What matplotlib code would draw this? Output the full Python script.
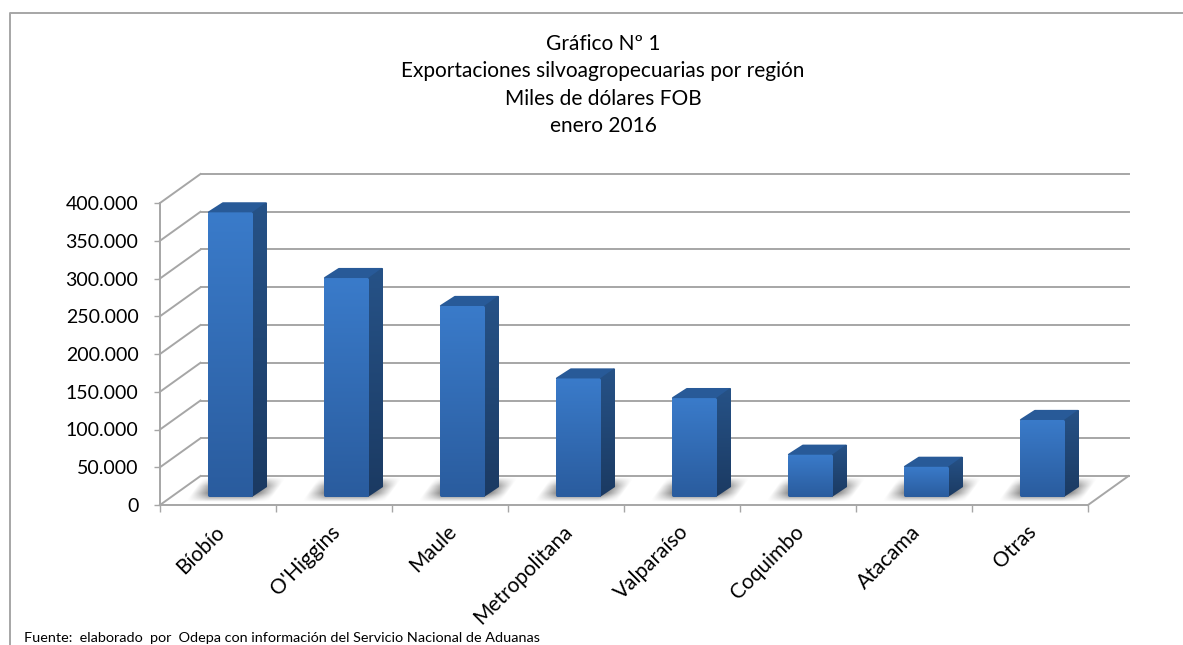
import numpy as np
import matplotlib
matplotlib.use('Agg')
import matplotlib.pyplot as plt
from matplotlib.patches import Polygon, FancyBboxPatch
from matplotlib.transforms import Affine2D
from matplotlib.colors import LinearSegmentedColormap

plt.rcParams['font.family'] = ['Lato', 'DejaVu Sans']

regiones = ['Bíobío', "O'Higgins", 'Maule', 'Metropolitana', 'Valparaíso', 'Coquimbo', 'Atacama', 'Otras']
valores = [377000, 290000, 253000, 157000, 131000, 56000, 40000, 102000]
y_ticks = [0, 50000, 100000, 150000, 200000, 250000, 300000, 350000, 400000]
y_labels = ['0', '50.000', '100.000', '150.000', '200.000', '250.000', '300.000', '350.000', '400.000']
titulo = ['Gráfico Nº 1', 'Exportaciones silvoagropecuarias por región', 'Miles de dólares FOB', 'enero 2016']
fuente = 'Fuente:  elaborado  por  Odepa con información del Servicio Nacional de Aduanas'

W, H = 1183, 645
GRIS = '#a6a6a6'
fig = plt.figure(figsize=(W / 100, H / 100), dpi=100)
ax = fig.add_axes([160 / W, 1 - 505 / H, 928 / W, 302 / H])
ax.set_xlim(0, 8)
ax.set_ylim(0, 400000)
ax.patch.set_visible(False)

# marco de la pagina
fig.add_artist(plt.Line2D([9.5 / W, 9.5 / W, 1], [0, 1 - 12.5 / H, 1 - 12.5 / H], color=GRIS, lw=1.4))

px_x = 1 / 116  # un pixel en unidades de categoria
px_y = 400000 / 302
fondo_x, fondo_y = 40.5 * px_x, 29 * px_y

# paredes: lineas de fondo y diagonales
for t in y_ticks:
    ax.plot([fondo_x, 8 + fondo_x], [t + fondo_y] * 2, color=GRIS, lw=1.4, clip_on=False, zorder=1)
    ax.plot([0, fondo_x], [t, t + fondo_y], color=GRIS, lw=1.4, clip_on=False, zorder=1)
ax.plot([8, 8 + fondo_x], [0, fondo_y], color=GRIS, lw=1.4, clip_on=False, zorder=1)

# barras: desplazadas sobre el piso (pixeles de pantalla)
desp = ax.transData + Affine2D().translate(12.5, 8)
ancho = 45 * px_x
prof_x, prof_y = 14 * px_x, 10 * px_y
mapa_frente = LinearSegmentedColormap.from_list('frente', ['#2a5c9e', '#3a7bca'])
mapa_lado = LinearSegmentedColormap.from_list('lado', ['#1b3a62', '#265287'])
grad = np.linspace(0, 1, 128).reshape(-1, 1)
u, v = np.meshgrid(np.linspace(0, 1, 100), np.linspace(0, 1, 40))
borde = np.clip(np.minimum(u, 1 - u) / 0.25, 0, 1) * np.clip(np.minimum(v, 1 - v) / 0.35, 0, 1)
sombra = np.zeros((40, 100, 4))
sombra[..., :3] = 0.35
sombra[..., 3] = 0.85 * borde

for i, val in enumerate(valores):
    x0 = i + 0.5 - ancho / 2
    x1 = x0 + ancho
    # sombra en el piso
    matriz = Affine2D.from_values(84 * px_x, 0, 18 * px_x, 25 * px_y, x0 - 23 * px_x, -5 * px_y)
    ax.imshow(sombra, extent=(0, 1, 0, 1), origin='lower', aspect='auto', zorder=2,
              transform=matriz + desp, clip_on=False, interpolation='bilinear')
    # cara superior, con borde redondeado
    ax.add_patch(Polygon([(x0 + 1 * px_x, val), (x1, val), (x1 + prof_x - 1 * px_x, val + prof_y - 1 * px_y),
                          (x0 + prof_x + 1 * px_x, val + prof_y - 1 * px_y)],
                         transform=desp, fc='#285a98', ec='#285a98', lw=1.6, joinstyle='round', zorder=3, clip_on=False))
    # cara lateral
    ax.imshow(grad, extent=(x1 - 1 * px_x, x1 + prof_x, 0, val + prof_y), origin='lower', aspect='auto',
              cmap=mapa_lado, zorder=4, transform=desp)
    lado = Polygon([(x1 - 1 * px_x, 0), (x1 + prof_x, prof_y), (x1 + prof_x, val + prof_y - 1 * px_y),
                    (x1 + prof_x - 1 * px_x, val + prof_y), (x1 - 1 * px_x, val)],
                   transform=desp, fc='none', ec='none', zorder=4)
    ax.add_patch(lado)
    ax.images[-1].set_clip_on(True)
    ax.images[-1].set_clip_path(lado)
    # cara frontal con esquinas redondeadas
    ax.imshow(grad, extent=(x0, x1, 0, val), origin='lower', aspect='auto', cmap=mapa_frente, zorder=5,
              transform=desp)
    frente = FancyBboxPatch((x0, 0), ancho, val, boxstyle='round,pad=0,rounding_size=0.015',
                            mutation_aspect=px_y / px_x, transform=desp, fc='none', ec='none', zorder=5)
    ax.add_patch(frente)
    ax.images[-1].set_clip_on(True)
    ax.images[-1].set_clip_path(frente)

ax.set_xlim(0, 8)
ax.set_ylim(0, 400000)

# ejes
for lado_ax in ['top', 'right']:
    ax.spines[lado_ax].set_visible(False)
for lado_ax in ['left', 'bottom']:
    ax.spines[lado_ax].set_color(GRIS)
    ax.spines[lado_ax].set_linewidth(1.4)
    ax.spines[lado_ax].set_zorder(6)
ax.set_yticks(y_ticks, y_labels)
ax.set_xticks(range(9), [''] * 9)
ax.set_xticks(np.arange(len(regiones)) + 0.5, regiones, minor=True)
ax.tick_params(axis='y', length=4.5, width=1, color=GRIS, labelsize=14, labelcolor='black', pad=11)
ax.tick_params(axis='x', which='major', length=5, width=1, color=GRIS)
ax.tick_params(axis='x', which='minor', length=0, labelsize=15, pad=12)
for lab in ax.get_xticklabels(minor=True):
    lab.set(rotation=45, ha='right', va='top', rotation_mode='anchor')
    lab.set_transform(lab.get_transform() + Affine2D().translate(-4, 0))

for lin, yy in zip(titulo, [44, 71, 99, 126]):
    fig.text(603 / W, 1 - yy / H, lin, ha='center', va='center', fontsize=15, color='black')
fig.text(24 / W, 1 - 638 / H, fuente, ha='left', va='center', fontsize=10.4, color='black')

fig.savefig('out.png', dpi=100)
